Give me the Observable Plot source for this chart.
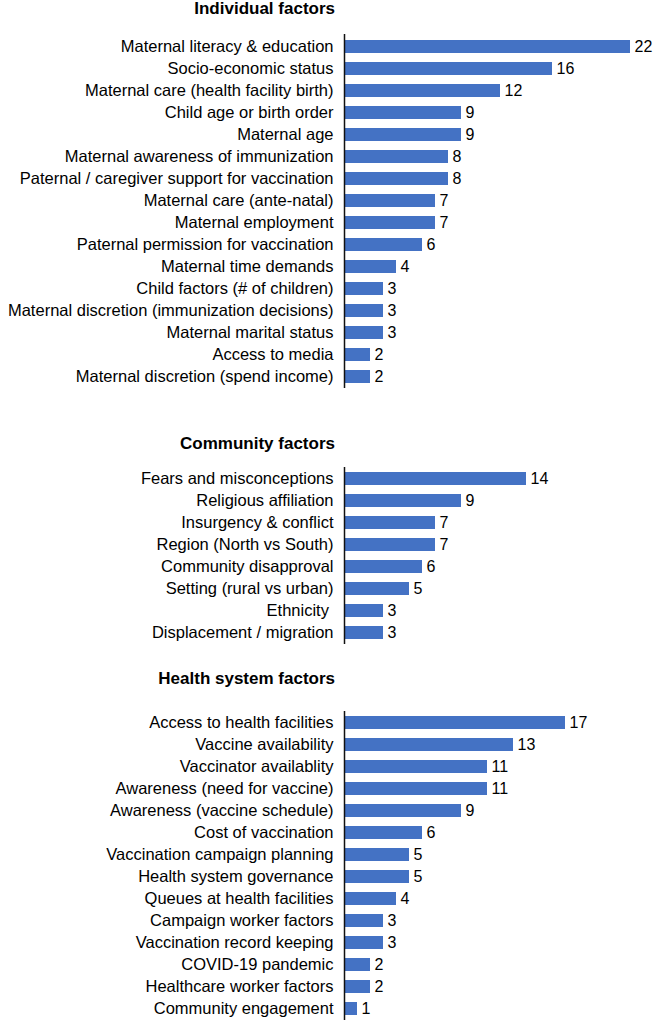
<!DOCTYPE html>
<html>
<head>
<meta charset="utf-8">
<script src="https://cdn.jsdelivr.net/npm/d3@7"></script>
<script src="https://cdn.jsdelivr.net/npm/@observablehq/plot@0.6"></script>
<style>
  body { margin: 0; background: #fff; }
  #wrap { position: relative; width: 653px; height: 1022px; overflow: hidden; font-family: "Liberation Sans", Arial, sans-serif; }
  .panel { position: absolute; left: 0; }
  .title { position: absolute; right: 318px; font-weight: bold; font-size: 17px; line-height: 1; color: #000; white-space: nowrap; }
</style>
</head>
<body>
<div id="wrap"></div>
<script>
const indivLabels = [
  "Maternal literacy & education",
  "Socio-economic status",
  "Maternal care (health facility birth)",
  "Child age or birth order",
  "Maternal age",
  "Maternal awareness of immunization",
  "Paternal / caregiver support for vaccination",
  "Maternal care (ante-natal)",
  "Maternal employment",
  "Paternal permission for vaccination",
  "Maternal time demands",
  "Child factors (# of children)",
  "Maternal discretion (immunization decisions)",
  "Maternal marital status",
  "Access to media",
  "Maternal discretion (spend income)"
];
const indivValues = [22, 16, 12, 9, 9, 8, 8, 7, 7, 6, 4, 3, 3, 3, 2, 2];

const commLabels = [
  "Fears and misconceptions",
  "Religious affiliation",
  "Insurgency & conflict",
  "Region (North vs South)",
  "Community disapproval",
  "Setting (rural vs urban)",
  "Ethnicity\u00a0",
  "Displacement / migration"
];
const commValues = [14, 9, 7, 7, 6, 5, 3, 3];

const healthLabels = [
  "Access to health facilities",
  "Vaccine availability",
  "Vaccinator availablity",
  "Awareness (need for vaccine)",
  "Awareness (vaccine schedule)",
  "Cost of vaccination",
  "Vaccination campaign planning",
  "Health system governance",
  "Queues at health facilities",
  "Campaign worker factors",
  "Vaccination record keeping",
  "COVID-19 pandemic",
  "Healthcare worker factors",
  "Community engagement"
];
const healthValues = [17, 13, 11, 11, 9, 6, 5, 5, 4, 3, 3, 2, 2, 1];

const panelTitles = ["Individual factors", "Community factors", "Health system factors"];

const wrap = document.getElementById("wrap");
const step = 22.1;

function panel(labels, values, top, titleText, titleCenter) {
  const data = labels.map((l, i) => ({label: l, value: values[i]}));
  const h = Math.round(labels.length * step);
  const chart = Plot.plot({
    width: 653,
    height: h,
    marginLeft: 344,
    marginRight: 23,
    marginTop: 0,
    marginBottom: 0,
    style: {fontFamily: "'Liberation Sans', Arial, sans-serif", fontSize: "16.5px", color: "#000", background: "transparent", overflow: "visible"},
    x: {domain: [0, 22], axis: null},
    y: {domain: labels, paddingInner: 0.43, paddingOuter: 0.215, align: 0.5, label: null, tickSize: 0, tickPadding: 11},
    marks: [
      Plot.barX(data, {x: "value", y: "label", fill: "#4472C4"}),
      Plot.text(data, {x: "value", y: "label", text: d => String(d.value), dx: 4, textAnchor: "start", fill: "#000", fontSize: 16}),
      Plot.ruleX([0], {stroke: "#111", strokeWidth: 1.5})
    ]
  });
  chart.classList.add("panel");
  chart.style.top = top + "px";
  wrap.appendChild(chart);
  const t = document.createElement("div");
  t.className = "title";
  t.textContent = titleText;
  t.style.top = (titleCenter - 8) + "px";
  wrap.appendChild(t);
}

panel(indivLabels, indivValues, 34, panelTitles[0], 8);
panel(commLabels, commValues, 467, panelTitles[1], 443);
panel(healthLabels, healthValues, 711, panelTitles[2], 678);
</script>
</body>
</html>
